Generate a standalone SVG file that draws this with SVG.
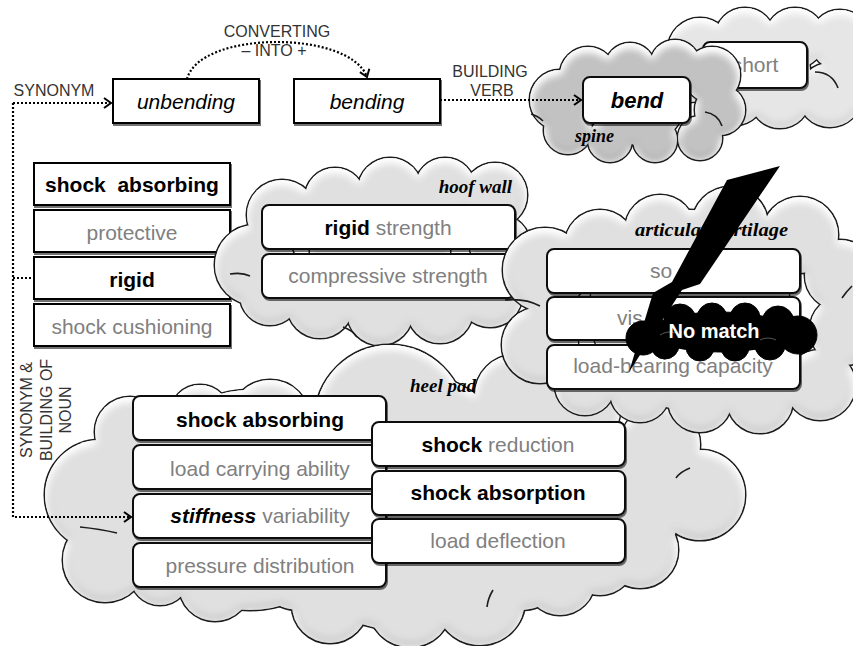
<svg xmlns="http://www.w3.org/2000/svg" width="853" height="646" viewBox="0 0 853 646">
<style>
.t{font-family:"Liberation Sans",Arial,Helvetica,sans-serif;font-size:21px;text-anchor:middle}
.b{font-weight:bold;fill:#000}
.g{fill:#808080}
.i{font-style:italic}
.lbl{font-family:"Liberation Sans",Arial,Helvetica,sans-serif;font-size:16px;fill:#333;text-anchor:middle}
.scr{font-family:"Liberation Serif","DejaVu Serif",serif;font-style:italic;font-weight:bold;font-size:19px;fill:#000}
.sq{fill:#fff;stroke:#000;stroke-width:2;filter:url(#ds)}
.rb{fill:#fff;stroke:#111;stroke-width:2;filter:url(#ds)}
.ol{fill:#1c1c1c;stroke:#1c1c1c;stroke-width:3}
.fl{stroke:none;filter:url(#glow)}
.arc{fill:none;stroke:#1c1c1c;stroke-width:1.6}
.dot{fill:none;stroke:#000;stroke-width:2.2;stroke-dasharray:2 2}
</style>
<defs>
<filter id="ds" x="-10%" y="-20%" width="120%" height="150%">
<feDropShadow dx="1" dy="2" stdDeviation="0.7" flood-color="#000" flood-opacity="0.55"/>
</filter>
<filter id="glow" x="-5%" y="-5%" width="110%" height="110%">
<feGaussianBlur in="SourceAlpha" stdDeviation="4"/>
<feOffset dy="3" result="bl"/>
<feComposite in="SourceAlpha" in2="bl" operator="out" result="edge"/>
<feFlood flood-color="#ffffff"/>
<feComposite in2="edge" operator="in" result="hl"/>
<feGaussianBlur in="SourceAlpha" stdDeviation="4"/>
<feOffset dy="-3" result="bl2"/>
<feComposite in="SourceAlpha" in2="bl2" operator="out" result="edge2"/>
<feFlood flood-color="#707070" flood-opacity="0.45"/>
<feComposite in2="edge2" operator="in" result="sh"/>
<feMerge><feMergeNode in="SourceGraphic"/><feMergeNode in="sh"/><feMergeNode in="hl"/><feMergeNode in="hl"/></feMerge>
</filter>
<marker id="ah" markerWidth="10" markerHeight="12" refX="8" refY="6" orient="auto" markerUnits="userSpaceOnUse">
<path d="M1,1 L8,6 L1,11" fill="none" stroke="#000" stroke-width="2"/>
</marker>
<g id="sShort"><circle cx="700" cy="50" r="32"/><circle cx="745" cy="38" r="30"/><circle cx="795" cy="38" r="30"/><circle cx="840" cy="40" r="30"/><circle cx="870" cy="80" r="35"/><circle cx="830" cy="95" r="32"/><circle cx="780" cy="98" r="30"/><circle cx="735" cy="95" r="30"/><circle cx="690" cy="80" r="22"/><circle cx="770" cy="70" r="40"/></g>
<g id="sSpine"><circle cx="560" cy="100" r="30"/><circle cx="588" cy="75" r="28"/><circle cx="630" cy="68" r="25"/><circle cx="675" cy="65" r="25"/><circle cx="712" cy="75" r="28"/><circle cx="720" cy="110" r="25"/><circle cx="700" cy="138" r="22"/><circle cx="655" cy="140" r="22"/><circle cx="610" cy="140" r="22"/><circle cx="568" cy="130" r="24"/><circle cx="640" cy="100" r="45"/></g>
<g id="sHoof"><circle cx="255" cy="265" r="40"/><circle cx="282" cy="215" r="35"/><circle cx="335" cy="198" r="30"/><circle cx="390" cy="190" r="32"/><circle cx="445" cy="188" r="30"/><circle cx="495" cy="195" r="32"/><circle cx="500" cy="245" r="30"/><circle cx="490" cy="295" r="32"/><circle cx="440" cy="310" r="33"/><circle cx="380" cy="312" r="33"/><circle cx="320" cy="305" r="33"/><circle cx="270" cy="295" r="30"/><circle cx="380" cy="250" r="70"/></g>
<g id="sHeel"><circle cx="100" cy="495" r="55"/><circle cx="130" cy="432" r="35"/><circle cx="105" cy="560" r="42"/><circle cx="160" cy="575" r="30"/><circle cx="215" cy="585" r="36"/><circle cx="330" cy="605" r="38"/><circle cx="410" cy="605" r="42"/><circle cx="480" cy="600" r="45"/><circle cx="560" cy="580" r="35"/><circle cx="640" cy="550" r="38"/><circle cx="700" cy="495" r="45"/><circle cx="660" cy="445" r="40"/><circle cx="580" cy="410" r="40"/><circle cx="515" cy="395" r="40"/><circle cx="390" cy="420" r="75"/><circle cx="270" cy="420" r="40"/><circle cx="200" cy="415" r="30"/><circle cx="400" cy="500" r="130"/><circle cx="250" cy="500" r="110"/><circle cx="560" cy="490" r="90"/><circle cx="300" cy="560" r="50"/><circle cx="520" cy="560" r="50"/><circle cx="620" cy="510" r="60"/><circle cx="150" cy="530" r="40"/><circle cx="600" cy="560" r="35"/></g>
<g id="sArt"><circle cx="545" cy="270" r="42"/><circle cx="540" cy="345" r="38"/><circle cx="600" cy="245" r="35"/><circle cx="660" cy="230" r="35"/><circle cx="730" cy="225" r="38"/><circle cx="800" cy="235" r="38"/><circle cx="840" cy="275" r="35"/><circle cx="845" cy="330" r="35"/><circle cx="820" cy="385" r="35"/><circle cx="760" cy="400" r="33"/><circle cx="700" cy="400" r="32"/><circle cx="640" cy="392" r="30"/><circle cx="585" cy="385" r="30"/><circle cx="690" cy="310" r="100"/></g>
<g id="sNo"><circle cx="643" cy="338" r="17"/><circle cx="680" cy="320" r="16"/><circle cx="712" cy="318" r="15"/><circle cx="745" cy="318" r="15"/><circle cx="778" cy="322" r="16"/><circle cx="798" cy="335" r="19"/><circle cx="770" cy="345" r="15"/><circle cx="735" cy="347" r="14"/><circle cx="700" cy="347" r="14"/><circle cx="665" cy="345" r="14"/><ellipse cx="720" cy="332" rx="70" ry="20"/></g>
</defs>

<g id="left-column">
<g id="n-shock-absorbing"><rect class="sq" x="34" y="163" width="196" height="42"/><text class="t b" x="132" y="192" xml:space="preserve">shock  absorbing</text></g>
<g id="n-protective"><rect class="sq" x="34" y="210" width="196" height="42"/><text class="t g" x="132" y="240">protective</text></g>
<g id="n-rigid"><rect class="sq" x="34" y="257" width="196" height="42"/><text class="t b" x="132" y="287">rigid</text></g>
<g id="n-shock-cushioning"><rect class="sq" x="34" y="304" width="196" height="42"/><text class="t g" x="132" y="334">shock cushioning</text></g>
</g>

<g id="cloud-short">
<use href="#sShort" class="ol"/><use href="#sShort" class="fl" fill="#e6e6e6"/>
<path class="arc" d="M815,72 Q832,72 838,88"/>
<rect class="rb" x="703" y="42" width="104" height="46" rx="7"/>
<text class="t g" x="755" y="72">short</text>
</g>

<g id="cloud-spine">
<use href="#sSpine" class="ol"/><use href="#sSpine" class="fl" fill="#c2c2c2"/>
<path class="arc" d="M705,112 Q718,114 722,126"/>
<path class="arc" d="M531,114 Q538,116 543,121"/>
<g id="n-bend"><rect class="rb" x="583" y="77" width="107" height="46" rx="7"/>
<text class="t b i" x="637" y="108" style="font-size:22px">bend</text></g>
<text class="scr" x="575" y="142" style="font-size:18px">spine</text>
</g>

<g id="cloud-hoof-wall">
<use href="#sHoof" class="ol"/><use href="#sHoof" class="fl" fill="#e0e0e0"/>
<path class="arc" d="M230,274 Q242,272 250,276"/>
<path class="arc" d="M343,327 Q352,330 357,337"/>
<text class="scr" x="512" y="193" text-anchor="end">hoof wall</text>
<g id="n-rigid-strength"><rect class="rb" x="262" y="205" width="253" height="44" rx="7"/>
<text class="t" x="388" y="235"><tspan class="b">rigid</tspan><tspan class="g"> strength</tspan></text></g>
<g id="n-compressive-strength"><rect class="rb" x="262" y="254" width="253" height="44" rx="7"/>
<text class="t g" x="388" y="283">compressive strength</text></g>
</g>

<g id="cloud-heel-pad">
<use href="#sHeel" class="ol"/><use href="#sHeel" class="fl" fill="#e0e0e0"/>
<path class="arc" d="M80,527 Q100,529 117,533"/>
<path class="arc" d="M493,590 Q488,598 487,607"/>
<path class="arc" d="M690,468 Q680,472 676,478"/>
<text class="scr" x="410" y="392">heel pad</text>
<g id="n-hp-shock-absorbing"><rect class="rb" x="133" y="396" width="253" height="44" rx="7"/>
<text class="t b" x="260" y="427">shock absorbing</text></g>
<g id="n-load-carrying"><rect class="rb" x="133" y="445" width="253" height="44" rx="7"/>
<text class="t g" x="260" y="476">load carrying ability</text></g>
<g id="n-stiffness"><rect class="rb" x="133" y="494" width="253" height="44" rx="7"/>
<text class="t" x="260" y="523"><tspan class="b i">stiffness</tspan><tspan class="g"> variability</tspan></text></g>
<g id="n-pressure"><rect class="rb" x="133" y="543" width="253" height="44" rx="7"/>
<text class="t g" x="260" y="573">pressure distribution</text></g>
<g id="n-shock-reduction"><rect class="rb" x="372" y="422" width="253" height="44" rx="7"/>
<text class="t" x="498" y="452"><tspan class="b">shock</tspan><tspan class="g"> reduction</tspan></text></g>
<g id="n-shock-absorption"><rect class="rb" x="372" y="471" width="253" height="44" rx="7"/>
<text class="t b" x="498" y="500">shock absorption</text></g>
<g id="n-load-deflection"><rect class="rb" x="372" y="519" width="253" height="44" rx="7"/>
<text class="t g" x="498" y="548">load deflection</text></g>
</g>

<g id="cloud-articular-cartilage">
<use href="#sArt" class="ol"/><use href="#sArt" class="fl" fill="#e0e0e0"/>
<path class="arc" d="M505,300 Q525,298 540,306"/>
<path class="arc" d="M852,286 Q846,292 842,298"/>
<text class="scr" x="635" y="236" textLength="153" lengthAdjust="spacingAndGlyphs">articular cartilage</text>
<g id="n-so"><rect class="rb" x="547" y="249" width="253" height="44" rx="7"/>
<text class="t g" x="650" y="278" style="text-anchor:start">so</text></g>
<g id="n-vis"><rect class="rb" x="547" y="297" width="253" height="43" rx="7"/>
<text class="t g" x="617" y="325" style="text-anchor:start">vis</text></g>
<g id="n-load-bearing"><rect class="rb" x="547" y="345" width="253" height="44" rx="7"/>
<text class="t g" x="673" y="373">load-bearing capacity</text></g>
</g>

<g id="n-unbending"><rect class="sq" x="113" y="79" width="146" height="44"/>
<text class="t i" x="186" y="109">unbending</text></g>
<g id="n-bending"><rect class="sq" x="294" y="79" width="146" height="44"/>
<text class="t i" x="367" y="109">bending</text></g>

<g id="connectors">
<path class="dot" d="M13,103 L111,103" marker-end="url(#ah)"/>
<path class="dot" d="M13,103 L13,517 L131,517" marker-end="url(#ah)"/>
<path class="dot" d="M13,278 L34,278"/>
<path class="dot" d="M187,79 C200,30 350,30 367,77" marker-end="url(#ah)"/>
<path class="dot" d="M440,100 L581,100" marker-end="url(#ah)"/>
<text class="lbl" x="54" y="96">SYNONYM</text>
<text class="lbl" x="277" y="37">CONVERTING</text>
<text class="lbl" x="274" y="56">– INTO +</text>
<text class="lbl" x="490" y="77">BUILDING</text>
<text class="lbl" x="492" y="96">VERB</text>
<text class="lbl" transform="translate(32,410) rotate(-90)">SYNONYM &amp;</text>
<text class="lbl" transform="translate(52,410) rotate(-90)">BUILDING OF</text>
<text class="lbl" transform="translate(71,410) rotate(-90)">NOUN</text>
</g>

<g id="no-match">
<polygon points="727,180 780,166 700,284 682,290 629,372 653,293 672,282" fill="#000"/>
<use href="#sNo" fill="#000" stroke="#000" stroke-width="1"/>
<path d="M660,335 Q668,330 676,333 M760,340 Q768,336 776,340" fill="none" stroke="#555" stroke-width="1"/>
<text class="t b" x="714" y="338" style="fill:#fff;font-size:20px">No match</text>
</g>
</svg>
